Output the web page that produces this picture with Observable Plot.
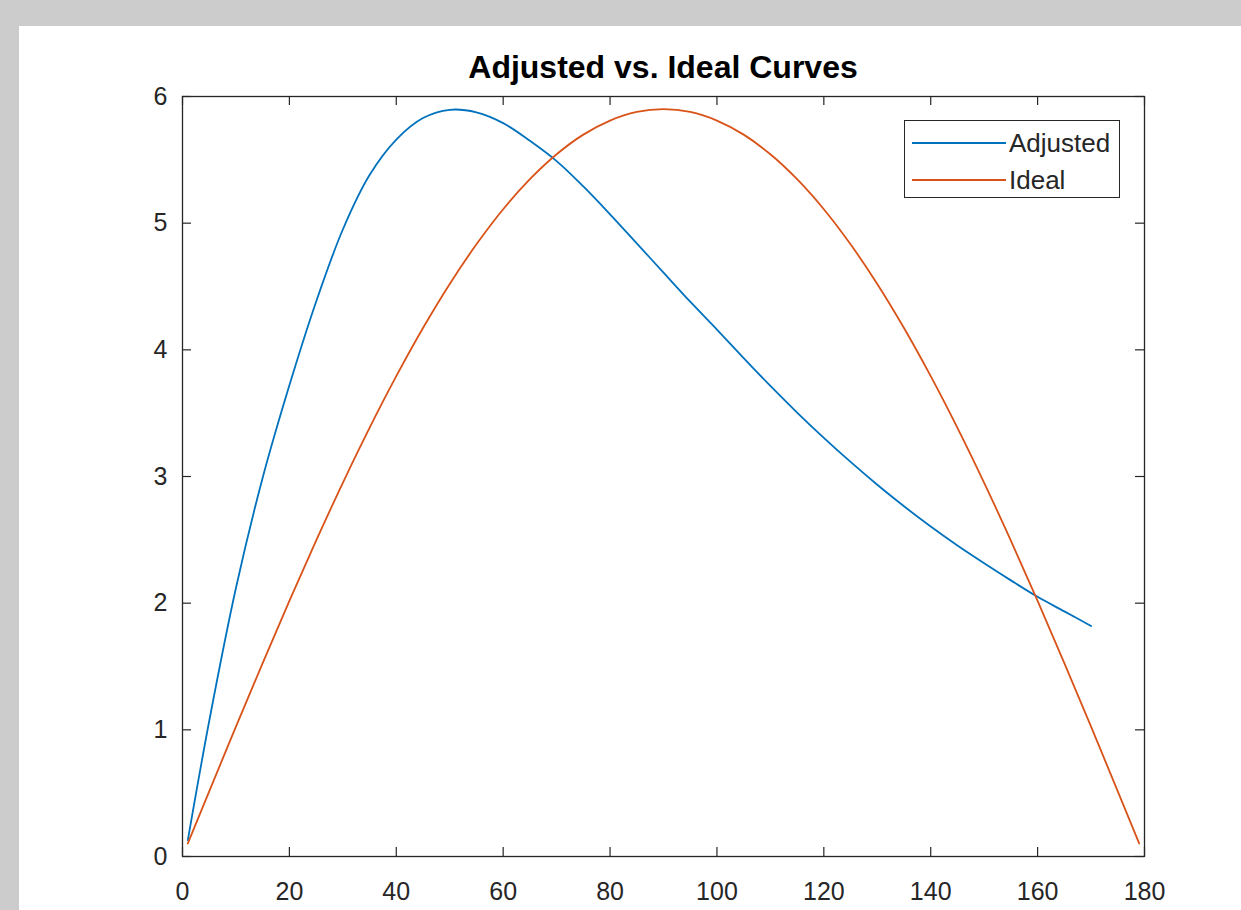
<!DOCTYPE html>
<html>
<head>
<meta charset="utf-8">
<script src="https://cdn.jsdelivr.net/npm/d3@7"></script>
<script src="https://cdn.jsdelivr.net/npm/@observablehq/plot@0.6"></script>
<style>
  html, body { margin: 0; padding: 0; }
  body { width: 1241px; height: 910px; background: #cccccc; position: relative; overflow: hidden;
         font-family: "Liberation Sans", Arial, Helvetica, sans-serif; }
  #panel { position: absolute; left: 19px; top: 26px; width: 1222px; height: 884px; background: #ffffff; }
  #title { position: absolute; left: 0; width: 1288px; top: 25px; text-align: center;
           font-size: 32px; line-height: 32px; font-weight: bold; color: #000; }
  #chart { position: absolute; left: 0; top: 0; }
  #legend { position: absolute; left: 885px; top: 94px; width: 214px; height: 76px;
            border: 1px solid #262626; background: #fff; }
  .lg-row { position: absolute; left: 0; height: 30px; width: 214px; }
  .lg-line { position: absolute; left: 7px; width: 94px; height: 2px; top: 14px; }
  .lg-text { position: absolute; left: 104px; top: 0; font-size: 26px; line-height: 30px; color: #262626; }
</style>
</head>
<body>
<div id="panel">
  <div id="chart"></div>
  <div id="title">Adjusted vs. Ideal Curves</div>
  <div id="legend"></div>
</div>
<script>
// ---- data ----
const seriesNames = ["Adjusted", "Ideal"];
const seriesColors = ["#0072BD", "#D95319"];

const xAdjusted = [1, 5, 10, 15, 20, 25, 30, 35, 40, 45, 50, 55, 60, 65, 70, 75, 80, 85, 90, 95,
                   100, 105, 110, 115, 120, 125, 130, 135, 140, 145, 150, 155, 160, 165, 170];
const yAdjusted = [0.13, 1.07, 2.12, 2.99, 3.72, 4.38, 4.95, 5.38, 5.66, 5.83, 5.895, 5.875, 5.79, 5.65, 5.49, 5.29, 5.07, 4.84, 4.61, 4.38,
                   4.16, 3.935, 3.715, 3.505, 3.305, 3.115, 2.935, 2.765, 2.605, 2.455, 2.315, 2.18, 2.05, 1.935, 1.82];

const xIdeal = [1, 5, 10, 15, 20, 25, 30, 35, 40, 45, 50, 55, 60, 65, 70, 75, 80, 85, 90,
                95, 100, 105, 110, 115, 120, 125, 130, 135, 140, 145, 150, 155, 160, 165, 170, 175, 179];
const yIdeal = [0.103, 0.514, 1.025, 1.527, 2.018, 2.493, 2.950, 3.384, 3.792, 4.172, 4.520, 4.833, 5.110, 5.347, 5.544, 5.699, 5.810, 5.878, 5.900,
                5.878, 5.810, 5.699, 5.544, 5.347, 5.110, 4.833, 4.520, 4.172, 3.792, 3.384, 2.950, 2.493, 2.018, 1.527, 1.025, 0.514, 0.103];

const xTicks = [0, 20, 40, 60, 80, 100, 120, 140, 160, 180];
const yTicks = [0, 1, 2, 3, 4, 5, 6];

// ---- build tables ----
const adjustedRows = xAdjusted.map((x, i) => ({x, y: yAdjusted[i]}));
const idealRows = xIdeal.map((x, i) => ({x, y: yIdeal[i]}));

const W = 1222, H = 884;
const mL = 163, mT = 70, mR = 97, mB = 54;
const innerH = H - mT - mB;
const innerW = W - mL - mR;
const tickLen = 9;
const axisColor = "#262626";

const chart = Plot.plot({
  width: W,
  height: H,
  marginLeft: mL,
  marginTop: mT,
  marginRight: mR,
  marginBottom: mB,
  x: {domain: [0, 180], label: null},
  y: {domain: [0, 6], label: null},
  style: {
    fontFamily: "'Liberation Sans', Arial, Helvetica, sans-serif",
    fontSize: "25px",
    color: axisColor,
    background: "transparent",
    overflow: "visible"
  },
  marks: [
    Plot.axisX(xTicks, {tickSize: 0, tickPadding: 26, fontSize: 25, fill: axisColor, label: null, tickFormat: d => String(d)}),
    Plot.axisY(yTicks, {tickSize: 0, tickPadding: 15, fontSize: 25, fill: axisColor, label: null, tickFormat: d => String(d)}),
    Plot.tickX(xTicks, {x: d => d, stroke: axisColor, strokeWidth: 1.2, insetTop: innerH - tickLen}),
    Plot.tickX(xTicks, {x: d => d, stroke: axisColor, strokeWidth: 1.2, insetBottom: innerH - tickLen}),
    Plot.tickY(yTicks, {y: d => d, stroke: axisColor, strokeWidth: 1.2, insetRight: innerW - tickLen}),
    Plot.tickY(yTicks, {y: d => d, stroke: axisColor, strokeWidth: 1.2, insetLeft: innerW - tickLen}),
    Plot.line(adjustedRows, {x: "x", y: "y", stroke: seriesColors[0], strokeWidth: 1.8, curve: "catmull-rom"}),
    Plot.line(idealRows, {x: "x", y: "y", stroke: seriesColors[1], strokeWidth: 1.8, curve: "catmull-rom"}),
    Plot.frame({stroke: axisColor, strokeWidth: 1.3})
  ]
});
document.getElementById("chart").appendChild(chart);

// ---- legend ----
const legend = document.getElementById("legend");
seriesNames.forEach((name, i) => {
  const row = document.createElement("div");
  row.className = "lg-row";
  row.style.top = (7 + i * 37) + "px";
  const line = document.createElement("div");
  line.className = "lg-line";
  line.style.background = seriesColors[i];
  const text = document.createElement("div");
  text.className = "lg-text";
  text.textContent = name;
  row.appendChild(line);
  row.appendChild(text);
  legend.appendChild(row);
});
</script>
</body>
</html>
